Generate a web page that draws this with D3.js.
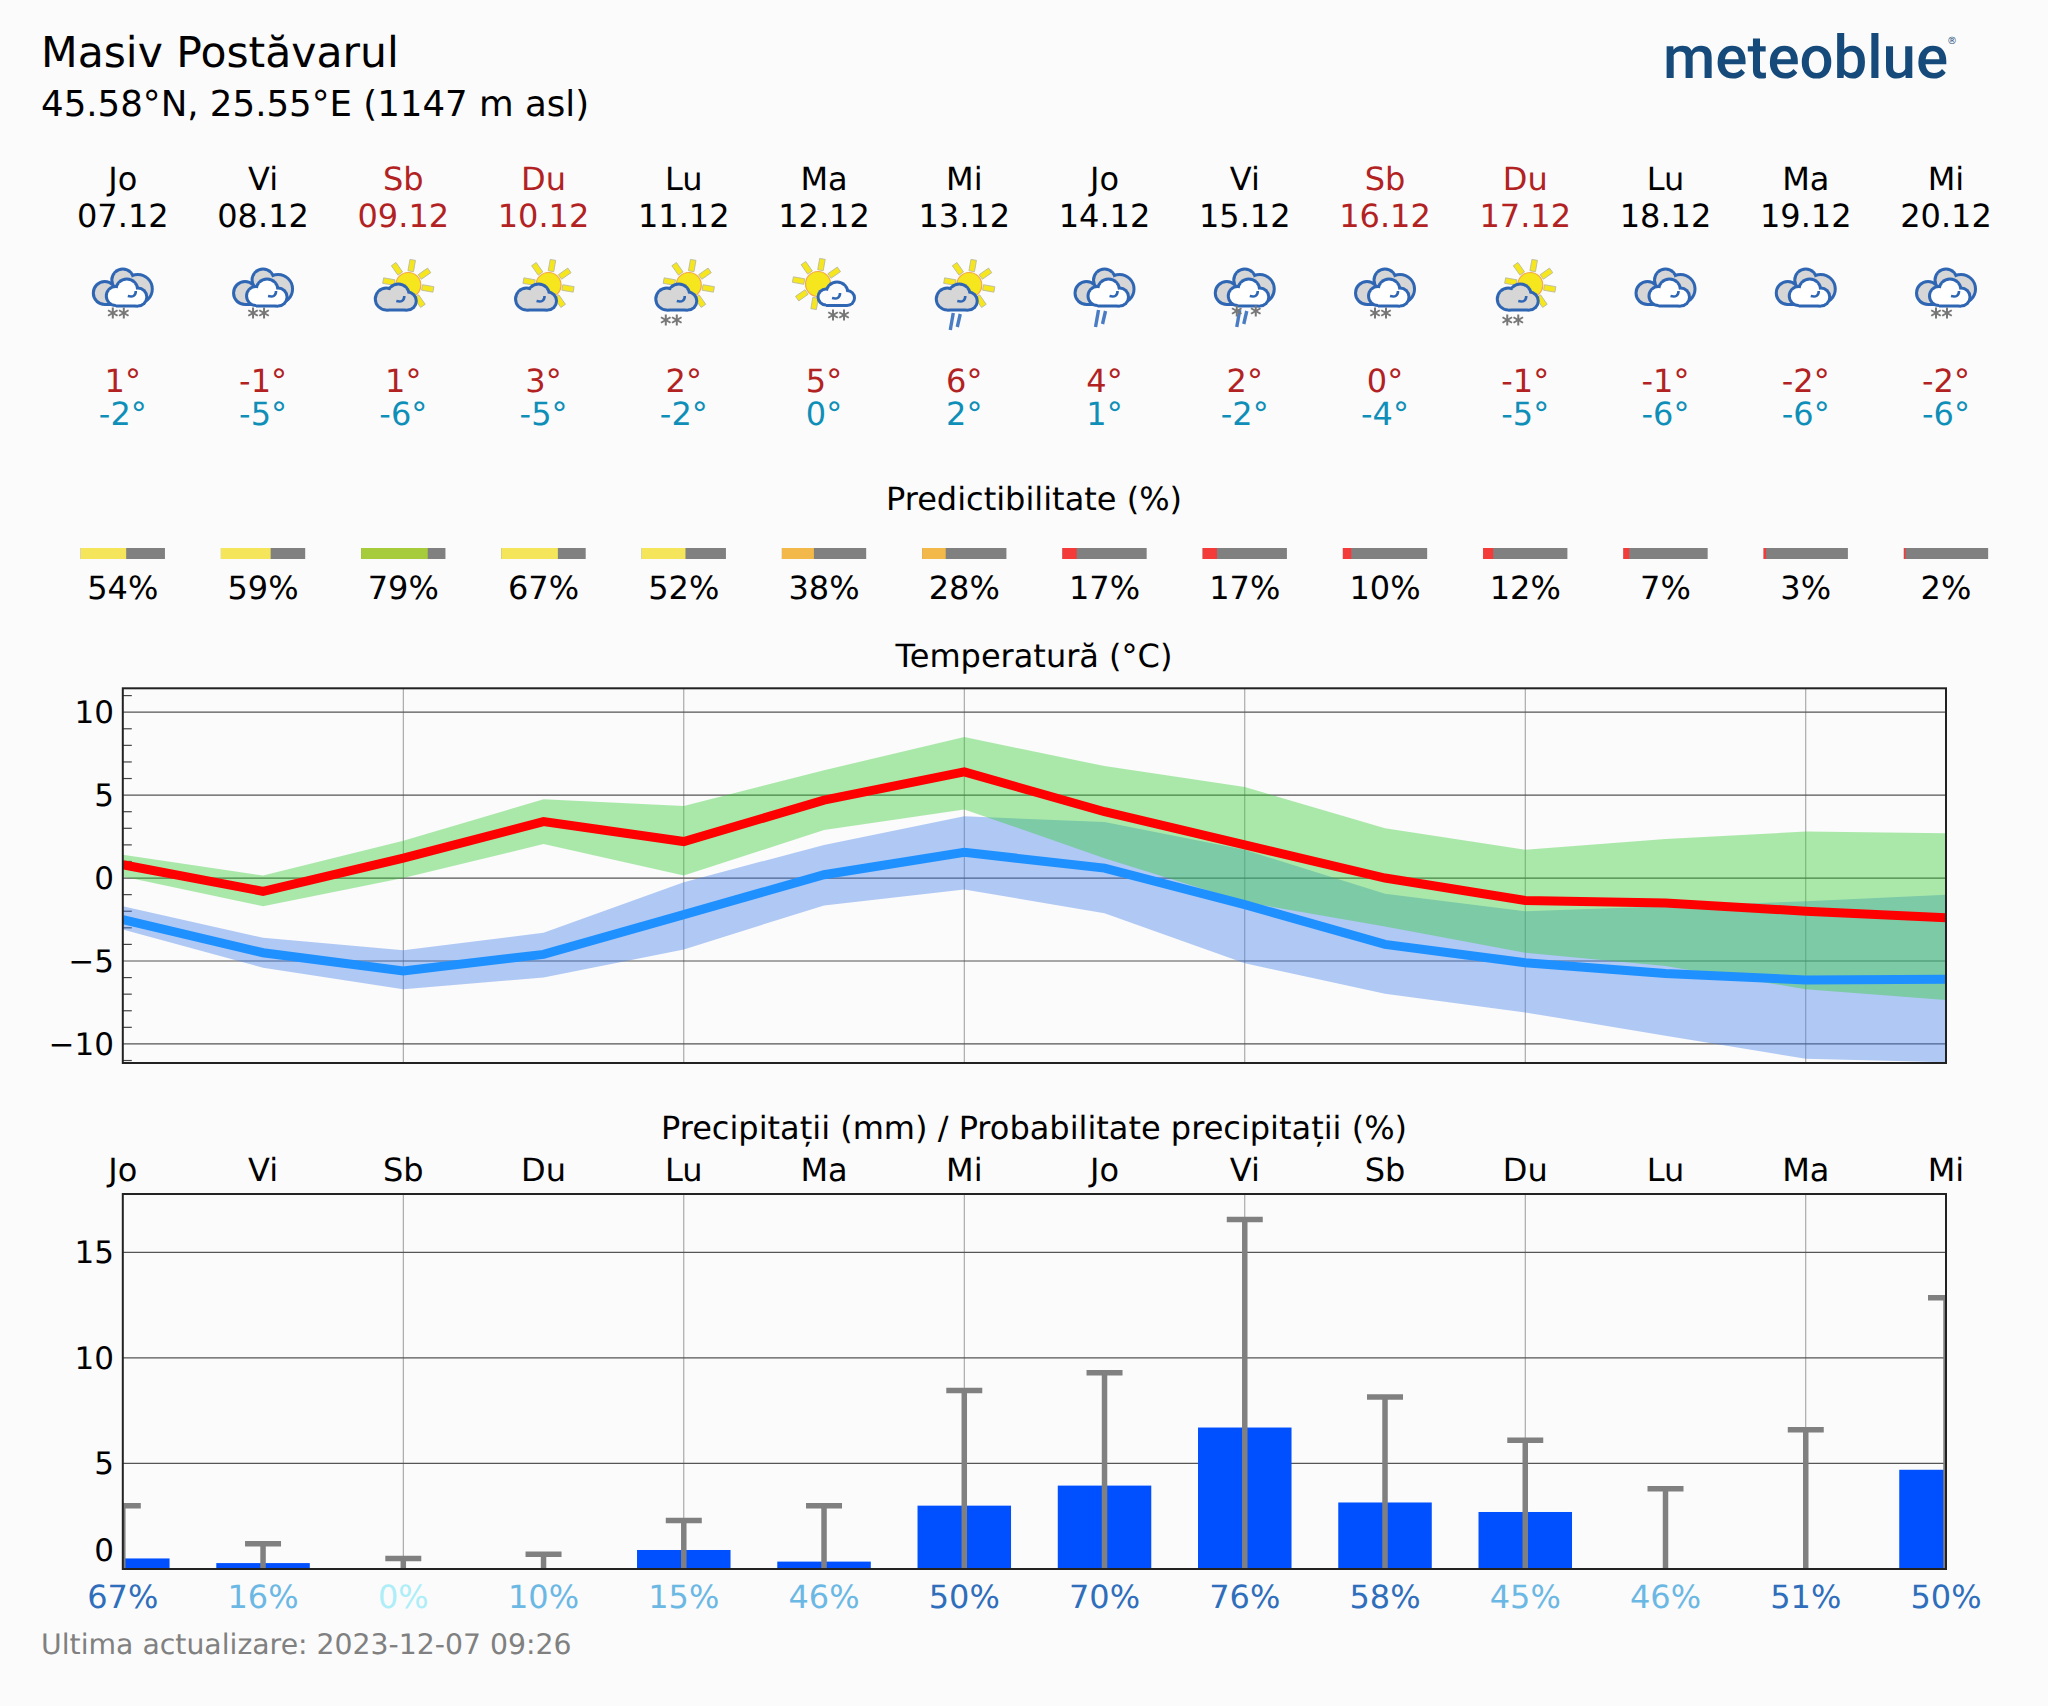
<!DOCTYPE html>
<html><head><meta charset="utf-8">
<script src="https://cdn.jsdelivr.net/npm/d3@7"></script>
<style>
html,body{margin:0;padding:0;background:#fbfbfb}
svg{display:block}
text{font-family:"DejaVu Sans",sans-serif;fill:#000;text-rendering:geometricPrecision}
</style></head><body><svg id="c" width="2048" height="1706"></svg>
<script>
const days=["Jo","Vi","Sb","Du","Lu","Ma","Mi","Jo","Vi","Sb","Du","Lu","Ma","Mi"];
const dates=["07.12","08.12","09.12","10.12","11.12","12.12","13.12","14.12","15.12","16.12","17.12","18.12","19.12","20.12"];
const icons=["ovSnow","ovSnow","sun","sun","sunSnow","whiteSnow","sunRain","ovRain","ovMix","ovSnow","sunSnow","ov","ov","ovSnow"];
const maxLabels=[1,-1,1,3,2,5,6,4,2,0,-1,-1,-2,-2];
const minLabels=[-2,-5,-6,-5,-2,0,2,1,-2,-4,-5,-6,-6,-6];
const predict=[54,59,79,67,52,38,28,17,17,10,12,7,3,2];
const tempMax=[0.8,-0.8,1.2,3.4,2.2,4.7,6.4,4.0,2.0,0.0,-1.35,-1.5,-2.0,-2.4];
const tempMin=[-2.5,-4.5,-5.6,-4.6,-2.2,0.2,1.55,0.6,-1.6,-4.0,-5.1,-5.75,-6.15,-6.1];
const maxHigh=[1.4,0.15,2.25,4.75,4.35,6.5,8.5,6.75,5.49,3.0,1.7,2.35,2.8,2.7];
const maxLow=[0.1,-1.7,0,2.05,0.15,2.9,4.14,1.2,-1.45,-2.92,-4.5,-5.3,-6.7,-7.35];
const minHigh=[-1.7,-3.6,-4.35,-3.3,-0.25,2.0,3.72,3.38,1.7,-0.95,-2.0,-1.7,-1.4,-1.0];
const minLow=[-3.1,-5.4,-6.7,-6.0,-4.3,-1.65,-0.69,-2.12,-5.14,-6.97,-8.1,-9.5,-10.9,-11.1];
const precip=[0.5,0.28,0,0,0.9,0.35,3.0,3.95,6.7,3.15,2.7,0,0,4.7];
const precipHigh=[3.0,1.2,0.5,0.7,2.3,3.0,8.45,9.3,16.55,8.15,6.1,3.8,6.6,12.85];
const precipProb=[67,16,0,10,15,46,50,70,76,58,45,46,51,50];
const tempTicks=[-10,-5,0,5,10];
const precipTicks=[0,5,10,15];

const svg=d3.select("#c");
const RED="#b22222",TEAL="#0f8fb8";
const L=122.8,R=1946;
const x=d3.scaleLinear().domain([0,13]).range([L,R]);
const T={top:688.3,bot:1063}, P={top:1194,bot:1569};
const yT=d3.scaleLinear().domain([-11.15,11.44]).range([T.bot,T.top]);
const yP=d3.scaleLinear().domain([0,17.76]).range([P.bot,P.top]);
const FS=32;
function txt(s,px,py,o={}){
  const t=svg.append("text").attr("x",px).attr("y",py).attr("font-size",o.fs||FS)
   .attr("text-anchor",o.a||"middle").attr("dominant-baseline","central").text(s);
  t.style("fill",o.c||"#000");return t;
}
svg.append("rect").attr("width",2048).attr("height",1706).attr("fill","#fbfbfb");

// header
txt("Masiv Postăvarul",41,53,{a:"start",fs:42.5});
txt("45.58°N, 25.55°E (1147 m asl)",41,104,{a:"start",fs:35.6});
// logo
svg.append("text").attr("x",1663).attr("y",78).attr("font-size",60)
  .style("font-family","Roboto,sans-serif").style("font-weight",500).style("fill","#154a7a").text("meteoblue");
svg.append("text").attr("x",1952).attr("y",44).attr("font-size",10).attr("text-anchor","middle").style("fill","#154a7a").text("®");

// icons
const defsCloud={
 back:[[-18,3,11.5],[0,-10,11],[15,-1,14.5]],
 front:[[-7,6,9.5],[4,0,11],[15,7,9]],
 small:[[-17,9,11],[-5,5,11],[4,11,9]],
 white:[[2,7,8],[13,3,11],[23,8,7.5]]
};
function cloud(g,cs,fill){
  const st="#2f66b4";
  const a=g.append("g");
  cs.forEach(d=>a.append("circle").attr("cx",d[0]).attr("cy",d[1]).attr("r",d[2]+1.5).attr("fill",st));
  const ymax=d3.max(cs,d=>d[1]+d[2]);
  const xs=d3.extent(cs,d=>d[0]);
  a.append("rect").attr("x",xs[0]).attr("y",ymax-9).attr("width",xs[1]-xs[0]).attr("height",10.5).attr("fill",st);
  cs.forEach(d=>a.append("circle").attr("cx",d[0]).attr("cy",d[1]).attr("r",d[2]-1.5).attr("fill",fill));
  a.append("rect").attr("x",xs[0]).attr("y",ymax-9).attr("width",xs[1]-xs[0]).attr("height",7.5).attr("fill",fill);
}
function sun(g,cx,cy){
  const a=g.append("g").attr("transform",`translate(${cx},${cy})`);
  d3.range(8).forEach(i=>{
    const ang=i*45+10;
    a.append("rect").attr("x",14).attr("y",-2.8).attr("width",11.5).attr("height",5.6).attr("fill","#f5e61e").attr("stroke","#b9b9a0").attr("stroke-width",.8).attr("transform",`rotate(${ang})`);
  });
  a.append("circle").attr("r",12.5).attr("fill","#f5e61e").attr("stroke","#f5a742").attr("stroke-width",1.2);
}
function snow(g,xs,y){
  xs.forEach(px=>{
    const a=g.append("g").attr("transform",`translate(${px},${y})`);
    [0,60,120].forEach(r=>a.append("line").attr("x1",0).attr("x2",0).attr("y1",-5.5).attr("y2",5.5).attr("stroke","#777").attr("stroke-width",2).attr("transform",`rotate(${r})`));
  });
}
function rain(g,px,y){
  [[0,0,17],[7,1,13]].forEach(d=>g.append("line").attr("x1",px+d[0]+3).attr("x2",px+d[0]).attr("y1",y+d[1]).attr("y2",y+d[1]+d[2]).attr("stroke","#4a7cc4").attr("stroke-width",3.4));
}
function curl(g,px,py){
  g.append("path").attr("d",`M${px},${py} q8,2 8,-5`).attr("fill","none").attr("stroke","#2f66b4").attr("stroke-width",2.6);
}
function overcast(g){
  cloud(g,defsCloud.back,"#d6d6d6");
  cloud(g,defsCloud.front,"#fff");
  curl(g,5,6);
}
function sunCloud(g){
  sun(g,5,-5);
  cloud(g,defsCloud.small,"#d6d6d6");
  curl(g,-7,11);
}
const drawIcon={
 ov:g=>overcast(g),
 ovSnow:g=>{overcast(g);snow(g,[-10,1],23);},
 ovRain:g=>{overcast(g);rain(g,-9,20);},
 ovMix:g=>{overcast(g);rain(g,-8,20);snow(g,[-8,11],21);},
 sun:g=>sunCloud(g),
 sunSnow:g=>{sunCloud(g);snow(g,[-18,-7],30);},
 sunRain:g=>{sunCloud(g);rain(g,-14,23);},
 whiteSnow:g=>{sun(g,-6,-6);cloud(g,defsCloud.white,"#fbfbfb");curl(g,8,8);snow(g,[9,20],25);}
};
days.forEach((d,i)=>{
  const cx=x(i),we=d==="Sb"||d==="Du",c=we?RED:"#000";
  txt(d,cx,179,{c});
  txt(dates[i],cx,216,{c});
  drawIcon[icons[i]](svg.append("g").attr("transform",`translate(${cx},290)`));
  txt(maxLabels[i]+"°",cx,381,{c:RED});
  txt(minLabels[i]+"°",cx,414,{c:TEAL});
});

// predictability
txt("Predictibilitate (%)",1034,499);
const pw=d3.scaleLinear().domain([0,100]).range([0,84.3]);
const pc=v=>v>=75?"#a6cc3c":v>=50?"#f4e55a":v>=20?"#f2b84a":"#f53a3a";
predict.forEach((v,i)=>{
  const x0=x(i)-pw(100)/2;
  svg.append("rect").attr("x",x0).attr("y",548).attr("width",pw(100)).attr("height",11).attr("fill","#808080");
  svg.append("rect").attr("x",x0).attr("y",548).attr("width",pw(v)).attr("height",11).attr("fill",pc(v));
  txt(v+"%",x(i),588);
});

// temperature panel
txt("Temperatură (°C)",1034,656);
svg.append("clipPath").attr("id","ct").append("rect").attr("x",L).attr("y",T.top).attr("width",R-L).attr("height",T.bot-T.top);
svg.append("clipPath").attr("id","cp").append("rect").attr("x",L).attr("y",P.top).attr("width",R-L).attr("height",P.bot-P.top);
const gT=svg.append("g");
const gridX=d3.range(2,13,2);
function vgrid(g,F){
  g.selectAll("line.v").data(gridX).join(e=>e.append("line")).attr("x1",d=>x(d)).attr("x2",d=>x(d)).attr("y1",F.top).attr("y2",F.bot).attr("stroke","#9a9a9a").attr("stroke-width",1);
}
vgrid(gT,T);
const gridT=gT.append("g");
tempTicks.forEach(v=>gridT.append("line").attr("x1",L).attr("x2",R).attr("y1",yT(v)).attr("y2",yT(v)).attr("stroke","#555").attr("stroke-width",1.2));
d3.range(-11,12).filter(v=>v%5!==0).forEach(v=>gT.append("line").attr("x1",L).attr("x2",L+9).attr("y1",yT(v)).attr("y2",yT(v)).attr("stroke","#444").attr("stroke-width",1.2));
const area=(hi,lo)=>d3.area().x((d,i)=>x(i)).y0((d,i)=>yT(lo[i])).y1((d,i)=>yT(hi[i]))(days);
const line=a=>d3.line().x((d,i)=>x(i)).y(d=>yT(d))(a);
const plotT=svg.append("g").attr("clip-path","url(#ct)");
plotT.append("path").attr("d",area(minHigh,minLow)).attr("fill","#3f7eec").attr("fill-opacity",.4);
plotT.append("path").attr("d",area(maxHigh,maxLow)).attr("fill","#32cd32").attr("fill-opacity",.4);
plotT.append("path").attr("d",line(tempMin)).attr("fill","none").attr("stroke","#1e90ff").attr("stroke-width",9);
plotT.append("path").attr("d",line(tempMax)).attr("fill","none").attr("stroke","#ff0000").attr("stroke-width",9);
function frame(F){svg.append("rect").attr("x",L).attr("y",F.top).attr("width",R-L).attr("height",F.bot-F.top).attr("fill","none").attr("stroke","#222").attr("stroke-width",2);}
frame(T);
tempTicks.forEach(v=>txt(String(v).replace("-","\u2212"),114,yT(v)+1,{a:"end",fs:31}));

// precipitation panel
txt("Precipitații (mm) / Probabilitate precipitații (%)",1034,1128);
days.forEach((d,i)=>txt(d,x(i),1170));
const gP=svg.append("g");
vgrid(gP,P);
precipTicks.filter(v=>v>0).forEach(v=>gP.append("line").attr("x1",L).attr("x2",R).attr("y1",yP(v)).attr("y2",yP(v)).attr("stroke","#555").attr("stroke-width",1.2));
const plotP=svg.append("g").attr("clip-path","url(#cp)");
const bw=93.5;
precip.forEach((v,i)=>{
  if(v>0) plotP.append("rect").attr("x",x(i)-bw/2).attr("y",yP(v)).attr("width",bw).attr("height",yP(0)-yP(v)).attr("fill","#0050ff");
});
precipHigh.forEach((v,i)=>{
  plotP.append("line").attr("x1",x(i)).attr("x2",x(i)).attr("y1",yP(0)).attr("y2",yP(v)).attr("stroke","#808080").attr("stroke-width",5.5);
  plotP.append("line").attr("x1",x(i)-18).attr("x2",x(i)+18).attr("y1",yP(v)).attr("y2",yP(v)).attr("stroke","#808080").attr("stroke-width",5.5);
});
frame(P);
precipTicks.forEach(v=>txt(v,114,v===0?1551:yP(v)+1,{a:"end",fs:31}));
const pcol=v=>v>=50?"#2f6ebb":v>0?"#6cb8e4":"#aeeef8";
precipProb.forEach((v,i)=>txt(v+"%",x(i),1597,{c:pcol(v)}));
txt("Ultima actualizare: 2023-12-07 09:26",41,1644,{a:"start",fs:28.3,c:"#808080"});
</script></body></html>
